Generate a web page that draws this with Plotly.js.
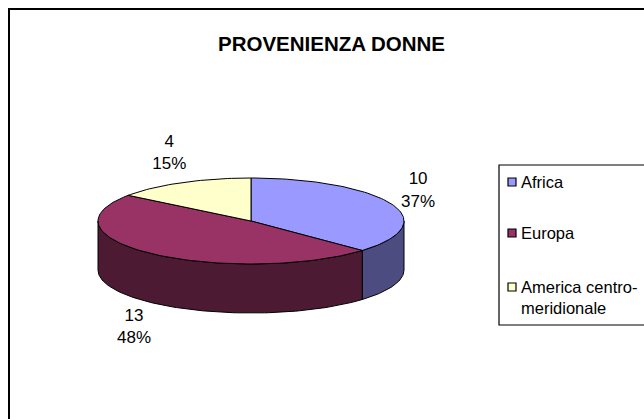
<!DOCTYPE html>
<html>
<head>
<meta charset="utf-8">
<script src="https://cdn.plot.ly/plotly-3.0.1.min.js"></script>
<style>html,body{margin:0;padding:0;background:#fff;}#chart{width:644px;height:419px;}</style>
</head>
<body>
<div id="chart"></div>
<script>
// ---- data ----
const categories = ['Africa', 'Europa', 'America centro-meridionale'];
const legendLabels = ['Africa', 'Europa', 'America centro-<br>meridionale'];
const values = [10, 13, 4];
const topColors = ['#9999FF', '#993366', '#FFFFCC'];
const sideColors = ['#4C4C80', '#4D1A33', '#80806A'];
const chartTitle = 'PROVENIENZA DONNE';

// ---- geometry (layout only) ----
const W = 644, H = 419;
const cx = 251, cy = 221, rx = 153, ry = 43, depth = 49;
const labRx = 182, labRy = 75;
const FONT = 'Arial, "Liberation Sans", sans-serif';

function rim(phiDeg, dy) {
  const p = phiDeg * Math.PI / 180;
  return [cx + rx * Math.sin(p), cy - ry * Math.cos(p) + (dy || 0)];
}
function arc(a, b, dy) {
  const pts = [];
  const n = Math.max(2, Math.ceil(Math.abs(b - a) / 1.5));
  for (let i = 0; i <= n; i++) pts.push(rim(a + (b - a) * i / n, dy));
  return pts;
}

const total = values.reduce((s, v) => s + v, 0);
const starts = [];
let acc = 0;
values.forEach(v => { starts.push(acc / total * 360); acc += v; });
const ends = values.map((v, i) => starts[i] + v / total * 360);

const sideTraces = [], topTraces = [];
values.forEach((v, i) => {
  const a = starts[i], b = ends[i];
  // visible side: phi in [90, 270]
  const s = Math.max(a, 90), e = Math.min(b, 270);
  if (e > s) {
    const top = arc(s, e, 0);
    const bot = arc(e, s, depth);
    const pts = top.concat(bot);
    pts.push(top[0]);
    sideTraces.push({
      type: 'scatter', mode: 'lines', fill: 'toself',
      x: pts.map(p => p[0]), y: pts.map(p => p[1]),
      fillcolor: sideColors[i], line: {color: '#000', width: 1},
      hoverinfo: 'skip', showlegend: false
    });
  }
  const pts = [[cx, cy]].concat(arc(a, b, 0));
  pts.push([cx, cy]);
  topTraces.push({
    type: 'scatter', mode: 'lines', fill: 'toself',
    x: pts.map(p => p[0]), y: pts.map(p => p[1]),
    fillcolor: topColors[i], line: {color: '#000', width: 1},
    hoverinfo: 'skip', showlegend: false
  });
});

// data labels
const labX = [], labY = [], labT = [];
values.forEach((v, i) => {
  const mid = (starts[i] + ends[i]) / 2;
  const p = mid * Math.PI / 180;
  const c = Math.cos(p);
  labX.push(cx + labRx * Math.sin(p));
  labY.push(cy - labRy * c + (c < 0 ? depth : 0));
  labT.push(v + '<br>' + Math.round(v / total * 100) + '%');
});
const labelTrace = {
  type: 'scatter', mode: 'text', x: labX, y: labY, text: labT,
  textposition: 'middle center',
  textfont: {family: FONT, size: 17, color: '#000'},
  hoverinfo: 'skip', showlegend: false
};

// legend (custom)
const shapes = [
  {type: 'rect', xref: 'x', yref: 'y', x0: 9, y0: 9, x1: 760, y1: 560, line: {color: '#000', width: 2}, layer: 'below'},
  {type: 'rect', xref: 'x', yref: 'y', x0: 499, y0: 165, x1: 760, y1: 325, line: {color: '#000', width: 1.2}, layer: 'above'}
];
const annotations = [];
const legendY = [182, 233, 287];
categories.forEach((c, i) => {
  shapes.push({type: 'rect', xref: 'x', yref: 'y', x0: 508, x1: 516, y0: legendY[i] - 4, y1: legendY[i] + 4,
    fillcolor: topColors[i], line: {color: '#000', width: 1.2}});
  const multi = legendLabels[i].indexOf('<br>') >= 0;
  annotations.push({xref: 'x', yref: 'y', x: 519, y: multi ? legendY[i] - 11 : legendY[i],
    xanchor: 'left', yanchor: multi ? 'top' : 'middle', align: 'left', showarrow: false,
    text: legendLabels[i], font: {family: FONT, size: 16.5, color: '#000'}});
});

const layout = {
  width: W, height: H,
  margin: {l: 0, r: 0, t: 0, b: 0},
  paper_bgcolor: '#fff', plot_bgcolor: '#fff',
  showlegend: false,
  title: {text: '<b>' + chartTitle + '</b>', x: 331.5 / W, xanchor: 'center', y: 1 - 44 / H, yanchor: 'middle',
    font: {family: FONT, size: 20.5, color: '#000'}},
  xaxis: {range: [0, W], visible: false, fixedrange: true},
  yaxis: {range: [H, 0], visible: false, fixedrange: true},
  shapes: shapes,
  annotations: annotations
};

Plotly.newPlot('chart', sideTraces.concat(topTraces, [labelTrace]), layout, {staticPlot: true, displayModeBar: false});
</script>
</body>
</html>
